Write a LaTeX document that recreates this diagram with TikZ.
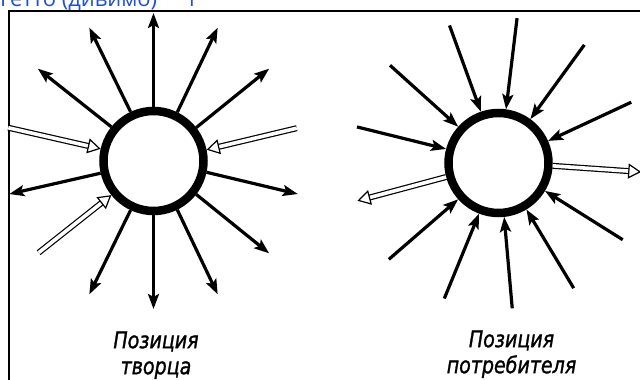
\documentclass[tikz,border=0pt]{standalone}
\usepackage{fontspec}
\usetikzlibrary{positioning, arrows.meta}
\newfontfamily\captionfont[FakeStretch=0.92, FakeBold=1.2]{DejaVu Sans Condensed}
\newfontfamily\linkfont{Open Sans}
\definecolor{linkblue}{RGB}{31,78,215}

\begin{document}
\begin{tikzpicture}[
  x=1pt, y=1pt,
  ring/.style={circle, draw, line width=8.5pt, minimum size=100pt, inner sep=0pt},
  ray/.style={line width=3.2pt, -{Stealth[length=15pt, width=11pt, inset=3pt]}},
  hollow/.style={double, double distance=3.6pt, line width=1.2pt, -{Triangle[open, length=13pt, width=15pt]}},
  caption/.style={font=\captionfont\itshape\fontsize{23}{26}\selectfont, align=center, inner sep=0pt},
]
  \useasboundingbox (0,0) rectangle (640,380);
  % blue line cut off at the top
  \node[anchor=base west, inner sep=0pt, text=linkblue, font=\linkfont\fontsize{22}{26}\selectfont] (head) at (0,373) {Гетто (дивимо)\hspace{28pt}1};
  % frame
  \draw[line width=2pt] (8.5,-5) -- (8.5,369) -- (645,369);

  % Position of the creator
  \node[ring] (creator) at (153.5,219) {};
  \foreach \a [count=\k] in {90, 64.3, 38.6, -12.9, -38.6, -64.3, -90, -115.7, -167.1, 141.4, 115.7} {
    \path (creator) ++(\a:148) coordinate (out\k);
    \draw[ray] (creator.\a) -- (out\k);
  }
  \foreach \a/\r [count=\k] in {12.9/147, -141.4/147, 167.1/149} {
    \path (creator) ++(\a:\r) coordinate (gift\k);
    \draw[hollow] (gift\k) -- (creator.\a);
  }
  \node[caption, below=116pt of creator, xshift=2.5pt] (creatorlabel) {Позиция\\творца};

  % Position of the consumer
  \node[ring] (consumer) at (498.5,217) {};
  \foreach \a [count=\k] in {165.7, 138, 109.6, 82.7, 54, 24.6, -31.7, -59, -84.6, -111.8, -138.7} {
    \path (consumer) ++(\a:146) coordinate (in\k);
    \draw[ray] (in\k) -- (consumer.\a);
  }
  \foreach \a/\r [count=\k] in {-3.6/143, -165/146} {
    \path (consumer) ++(\a:\r) coordinate (give\k);
    \draw[hollow] (consumer.\a) -- (give\k);
  }
  \node[caption, below=113pt of consumer, xshift=13pt] (consumerlabel) {Позиция\\потребителя};
\end{tikzpicture}
\end{document}
